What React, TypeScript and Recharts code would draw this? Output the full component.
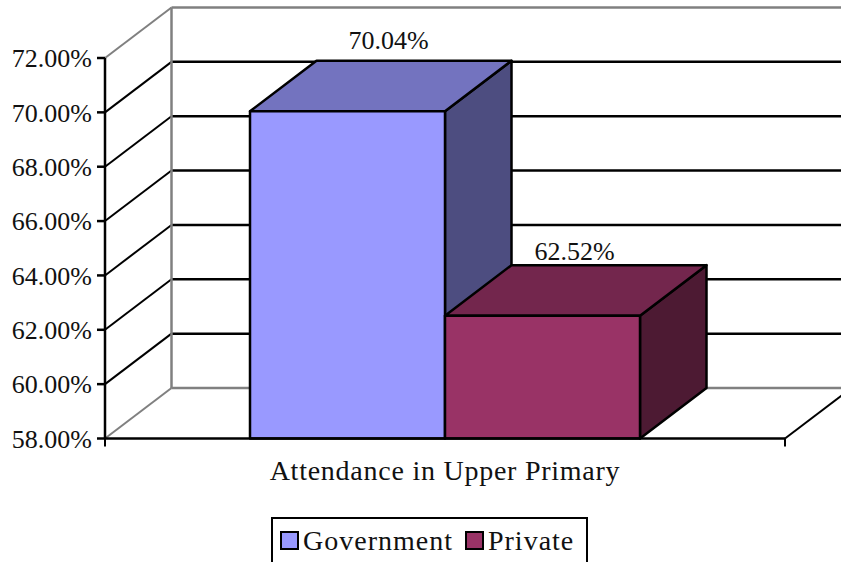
import { Bar, BarChart, CartesianGrid, LabelList, Legend, XAxis, YAxis } from 'recharts';

const categories = ['Attendance in Upper Primary'];
const governmentValues = [70.04];
const privateValues = [62.52];
const yTicks = [58, 60, 62, 64, 66, 68, 70, 72];

const chartData = categories.map((name, i) => ({
  name,
  Government: governmentValues[i],
  Private: privateValues[i],
}));

const FONT = '"Liberation Serif", serif';
const INK = '#111';
const WALL = '#808080';
// how far the back wall sits from the front plane
const DX = 66.5;
const DY = 50.5;

function depthLine(p: any) {
  const { x1, y1, x2, y2, index } = p;
  const isTop = y1 < 60;
  const isFloor = y1 > 430;
  const back = isTop || isFloor ? WALL : '#000';
  return (
    <g key={`depth-${index}`} fill="none">
      {isTop && <line x1={x1 + DX} y1={y1 - DY} x2={x1 + DX} y2={y1 - DY + 380.5} stroke={WALL} strokeWidth={2.5} />}
      <line x1={x1 + DX} y1={y1 - DY} x2={x2 + DX} y2={y2 - DY} stroke={back} strokeWidth={2.5} />
      <line x1={x1} y1={y1} x2={x1 + DX} y2={y1 - DY} stroke={back} strokeWidth={2} />
      {isFloor && (
        <>
          <line x1={x2} y1={y2} x2={x2 + DX} y2={y2 - DY} stroke="#000" strokeWidth={2} />
          <line x1={x1} y1={y1} x2={x1} y2={y1 + 8} stroke="#000" strokeWidth={2} />
          <line x1={x2} y1={y2} x2={x2} y2={y2 + 8} stroke="#000" strokeWidth={2} />
        </>
      )}
    </g>
  );
}

function box3d(side: string, top: string) {
  return (p: any) => {
    const { x, y, width, height, fill } = p;
    const r = x + width;
    const b = y + height;
    const common = { stroke: '#000', strokeWidth: 2.5, strokeLinejoin: 'round' as const };
    return (
      <g>
        <path d={`M${r} ${y}L${r + DX} ${y - DY}L${r + DX} ${b - DY}L${r} ${b}Z`} fill={side} {...common} />
        <path d={`M${x} ${y}L${x + DX} ${y - DY}L${r + DX} ${y - DY}L${r} ${y}Z`} fill={top} {...common} />
        <rect x={x} y={y} width={width} height={height} fill={fill} {...common} />
      </g>
    );
  };
}

function valueLabel(dx: number, dy: number) {
  return (p: any) => (
    <text x={p.x + p.width / 2 + dx} y={p.y - dy} textAnchor="middle" fill={INK} fontSize={26} fontFamily={FONT}>
      {`${Number(p.value).toFixed(2)}%`}
    </text>
  );
}

function legendBox({ payload }: any) {
  return (
    <div
      style={{
        boxSizing: 'border-box',
        width: 317,
        height: 70,
        border: '2.5px solid #000',
        background: '#fff',
        display: 'flex',
        paddingLeft: 7,
        paddingTop: 7,
        fontFamily: FONT,
        fontSize: 28,
        letterSpacing: 1,
        color: INK,
        lineHeight: '30px',
      }}
    >
      {(payload || []).map((item: any) => (
        <div key={item.value} style={{ display: 'flex', alignItems: 'flex-start', marginRight: 12 }}>
          <span
            style={{
              boxSizing: 'border-box',
              display: 'inline-block',
              width: 19,
              height: 19,
              marginTop: 5,
              marginRight: 4,
              background: item.color,
              border: '2.5px solid #000',
            }}
          />
          {item.value}
        </div>
      ))}
    </div>
  );
}

export default function App() {
  return (
    <div style={{ position: 'absolute', left: 0, top: 0, width: 841, height: 562, overflow: 'hidden', background: '#fff' }}>
      <BarChart
        width={841}
        height={562}
        data={chartData}
        margin={{ top: 58, right: 56, bottom: 63.5, left: 0 }}
        barCategoryGap={145}
        barGap={0}
      >
        <CartesianGrid vertical={false} horizontal={depthLine} />
        <XAxis
          dataKey="name"
          height={60}
          tickLine={false}
          axisLine={{ stroke: '#000', strokeWidth: 2.5 }}
          tick={{ fill: INK, fontSize: 28, fontFamily: FONT, letterSpacing: 0.75 }}
          tickMargin={16}
        />
        <YAxis
          width={105}
          domain={[58, 72]}
          ticks={yTicks}
          interval={0}
          tickSize={8}
          tickMargin={5}
          tickFormatter={(v: number) => `${v.toFixed(2)}%`}
          axisLine={{ stroke: '#000', strokeWidth: 2.5 }}
          tickLine={{ stroke: '#000', strokeWidth: 2.5 }}
          tick={{ fill: INK, fontSize: 26, fontFamily: FONT }}
        />
        <Legend
          layout="horizontal"
          verticalAlign="middle"
          align="center"
          content={legendBox}
          wrapperStyle={{ position: 'absolute', left: 271, top: 517, width: 317, height: 70 }}
        />
        <Bar dataKey="Government" fill="#9999FF" shape={box3d('#4D4D80', '#7373BF')} isAnimationActive={false}>
          <LabelList dataKey="Government" content={valueLabel(41, 62)} />
        </Bar>
        <Bar dataKey="Private" fill="#993366" shape={box3d('#4D1A33', '#73264D')} isAnimationActive={false}>
          <LabelList dataKey="Private" content={valueLabel(32, 56)} />
        </Bar>
      </BarChart>
    </div>
  );
}
